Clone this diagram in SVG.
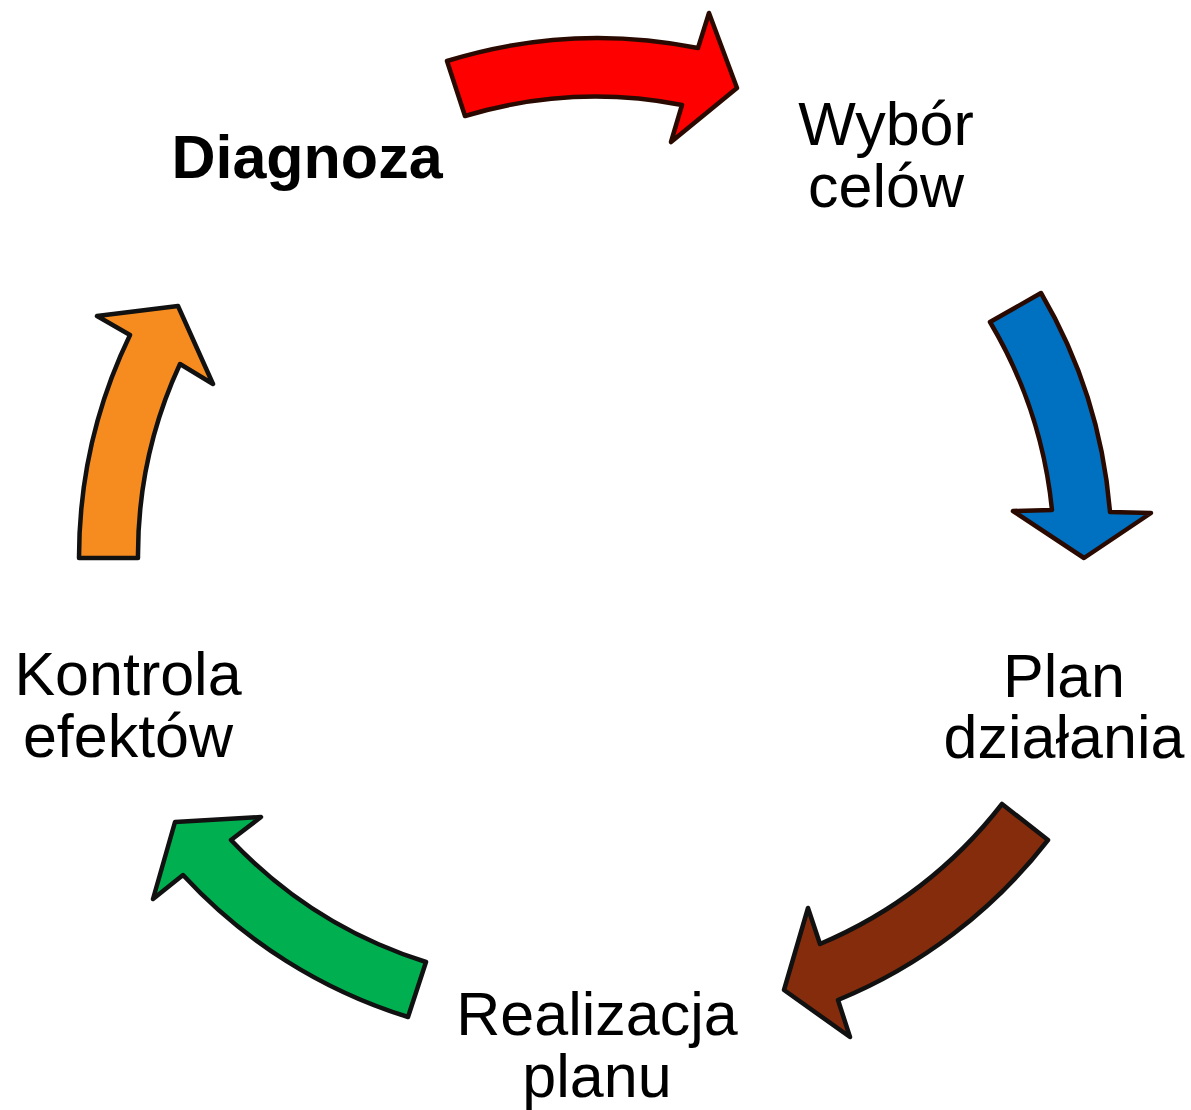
<svg xmlns="http://www.w3.org/2000/svg" width="1191" height="1110" viewBox="0 0 1191 1110">
<style>
.arrow{stroke-width:4.5;stroke-linejoin:round}
.lbl{font-family:"Liberation Sans",Arial,sans-serif;font-size:61px;fill:#000;text-anchor:middle}
.bold{font-weight:bold}
</style>
<rect width="1191" height="1110" fill="#fff"/>
<g id="connectors">
<path id="arrow-red" class="arrow" fill="#ff0000" stroke="#2a0a00" d="M447,61 A513,513 0 0 1 698,48 L709,13 L737,88 L671,142 L682,105 A455,455 0 0 0 465,116 Z"/>
<path id="arrow-blue" class="arrow" fill="#0070c0" stroke="#2a0a00" d="M1041,293 A515,515 0 0 1 1110,512 L1151,513 L1084,558 L1013,511 L1052,510 A458,458 0 0 0 990,322 Z"/>
<path id="arrow-brown" class="arrow" fill="#842c0c" stroke="#111" d="M1002,804 L1048,840 A512,512 0 0 1 838,1000 L850,1037 L784,990 L808,908 L820,944 A455,455 0 0 0 1002,804 Z"/>
<path id="arrow-green" class="arrow" fill="#00b050" stroke="#111" d="M426,962 A455,455 0 0 1 231,840 L261,817 L175,822 L153,899 L183,875 A512,512 0 0 0 408,1017 Z"/>
<path id="arrow-orange" class="arrow" fill="#f68c1f" stroke="#111" d="M79,558 A513,513 0 0 1 130,335 L97,316 L178,306 L213,384 L180,364 A455,455 0 0 0 138,558 Z"/>
</g>
<g id="node-diagnoza"><text class="lbl bold" x="307" y="178">Diagnoza</text></g>
<g id="node-wybor"><text class="lbl" x="886" y="145">Wybór</text><text class="lbl" x="886" y="207">celów</text></g>
<g id="node-plan"><text class="lbl" x="1064" y="697">Plan</text><text class="lbl" x="1064" y="758">działania</text></g>
<g id="node-realizacja"><text class="lbl" x="597" y="1035">Realizacja</text><text class="lbl" x="597" y="1097">planu</text></g>
<g id="node-kontrola"><text class="lbl" x="128" y="695">Kontrola</text><text class="lbl" x="128" y="757">efektów</text></g>
</svg>
